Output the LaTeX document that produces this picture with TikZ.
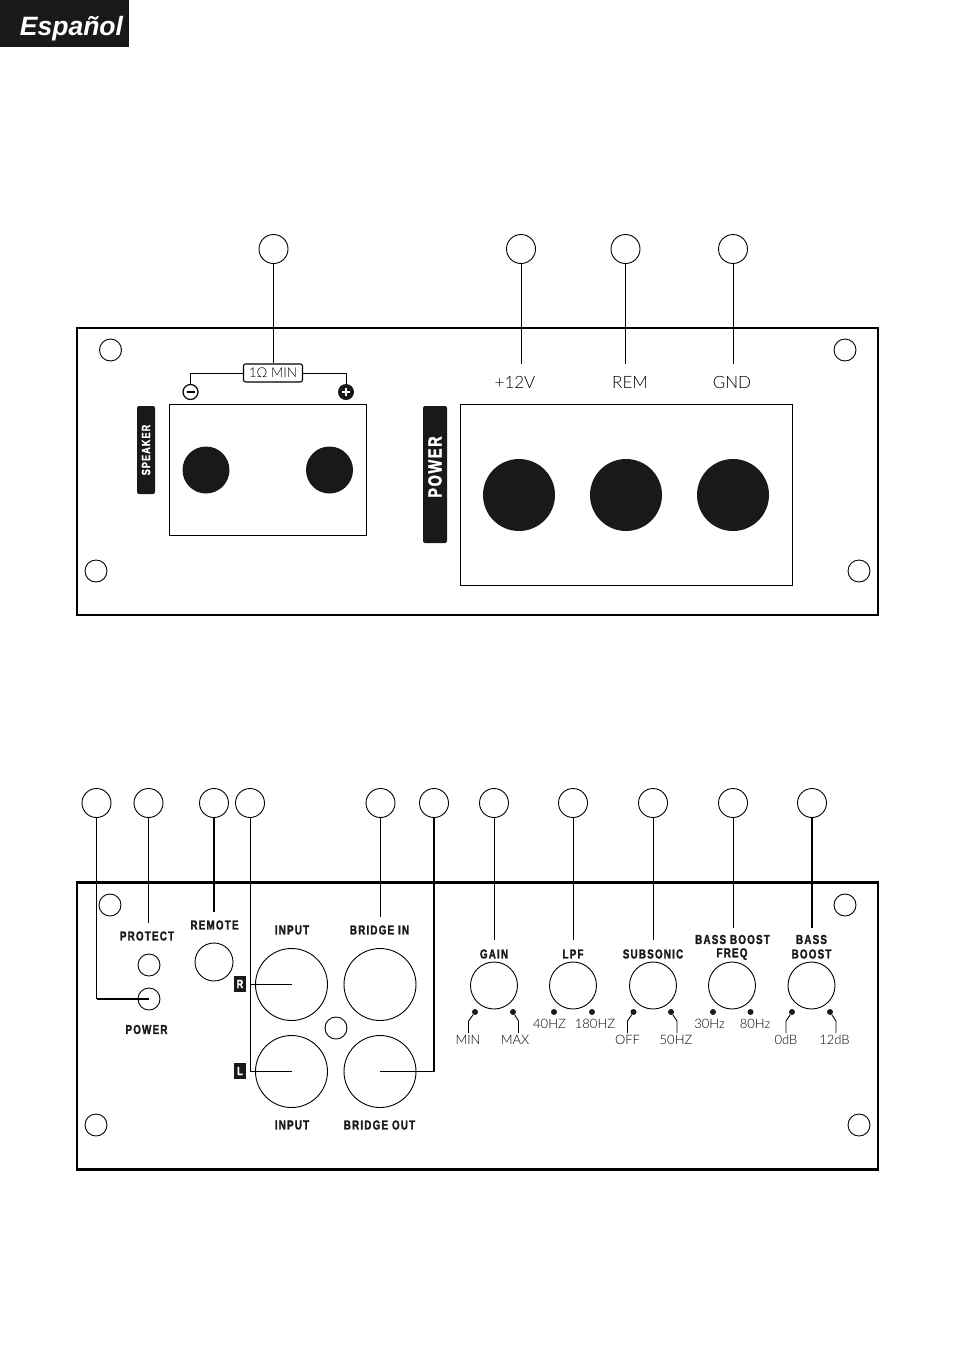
\documentclass[tikz,border=0pt]{standalone}
\usepackage{fontspec}
\setmainfont{Liberation Sans}
\newfontfamily\capfont[LetterSpace=9,FakeStretch=0.76,FakeBold=1.6]{Liberation Sans}
\newfontfamily\thinfont{Lato Light}
\tikzset{
	ring/.style={circle,draw,line width=0.9pt,inner sep=0pt},
	callout/.style={ring,minimum size=29pt},
	screw/.style={ring,minimum size=22pt},
	jack/.style={ring,minimum size=72pt},
	knob/.style={ring,minimum size=47pt},
	post/.style={circle,fill=black!90,inner sep=0pt},
	dot/.style={circle,fill=black!90,inner sep=0pt,minimum size=6pt},
	panel/.style={draw,line width=2.4pt,inner sep=0pt,minimum width=801pt,minimum height=287pt},
	bay/.style={draw,line width=0.9pt,inner sep=0pt},
	tab/.style={fill=black!90,rounded corners=2pt,inner sep=0pt},
	lead/.style={line width=0.9pt},
	heavy/.style={line width=1.8pt},
	caplabel/.style={inner sep=0pt,text=black!90,font=\capfont\bfseries\fontsize{13}{13}\selectfont},
	thinlabel/.style={inner sep=0pt,font=\thinfont\fontsize{13}{13}\selectfont}
}
\begin{document}
\begin{tikzpicture}[x=1pt,y=-1pt]
	\useasboundingbox (0,0) rectangle (954,1355);
	% banner
	\node [fill=black!90,minimum width=129pt,minimum height=47pt,inner sep=0pt,anchor=north west] (banner) at (0,0) {};
	\node [text=white,inner sep=0pt,font=\bfseries\itshape\fontsize{26.5}{26.5}\selectfont] (bannertext) at (71.5,28.5) {Español};

	% upper panel
	\node [panel] (upperpanel) at (477.5,471.5) {};
	\node [screw] (us1) at (110.5,350) {};
	\node [screw] (us2) at (845,350) {};
	\node [screw] (us3) at (96,571) {};
	\node [screw] (us4) at (859,571) {};
	\node [bay,minimum width=197pt,minimum height=131pt] (spkbay) at (267.5,469.5) {};
	\node [bay,minimum width=332pt,minimum height=181pt] (pwrbay) at (626,494.5) {};
	\node [post,minimum size=47pt] (spkminus) at (206,470) {};
	\node [post,minimum size=47pt] (spkplus) at (329.5,470) {};
	\node [post,minimum size=72pt] (pwr12) at (519,495) {};
	\node [post,minimum size=72pt] (pwrrem) at (626,495) {};
	\node [post,minimum size=72pt] (pwrgnd) at (733,495) {};
	\node [tab,minimum width=18pt,minimum height=88pt] (spktab) at (146,450) {};
	\node [tab,minimum width=24pt,minimum height=137pt] (pwrtab) at (435,474.5) {};
	\node [caplabel,text=white,rotate=90,font=\capfont\bfseries\fontsize{12}{12}\selectfont] (spktext) at (146,450) {SPEAKER};
	\node [caplabel,text=white,rotate=90,font=\capfont\bfseries\fontsize{19}{19}\selectfont] (pwrtext) at (435,467) {POWER};
	\node [draw,line width=1.1pt,rounded corners=2pt,minimum width=59pt,minimum height=18pt,inner sep=0pt,font=\thinfont\fontsize{13.5}{13.5}\selectfont] (ohmbox) at (273,373) {1Ω MIN};
	\node [circle,draw,line width=1.2pt,inner sep=0pt,minimum size=15pt] (minussign) at (190.5,392) {};
	\node [post,minimum size=16pt] (plussign) at (346,392) {};
	\draw [line width=1.6pt] (186.5,392) -- (194.5,392);
	\draw [line width=1.6pt,white] (342,392) -- (350,392);
	\draw [line width=1.6pt,white] (346,388) -- (346,396);
	\draw [lead] (ohmbox.west) -| (minussign.north);
	\draw [lead] (ohmbox.east) -| (plussign.north);
	\node [thinlabel,font=\thinfont\fontsize{17}{17}\selectfont] (lab12) at (515,382) {+12V};
	\node [thinlabel,font=\thinfont\fontsize{17}{17}\selectfont] (labrem) at (630,382) {REM};
	\node [thinlabel,font=\thinfont\fontsize{17}{17}\selectfont] (labgnd) at (732,382) {GND};
	\node [callout] (callspk) at (273.5,249) {};
	\node [callout] (call12) at (521,249) {};
	\node [callout] (callrem) at (625.5,249) {};
	\node [callout] (callgnd) at (733,249) {};
	\coordinate (tip12) at (521,364);
	\coordinate (tiprem) at (625.5,364);
	\coordinate (tipgnd) at (733,364);
	\draw [lead] (callspk.south) -- (callspk.south |- ohmbox.north);
	\draw [lead] (call12) -- (tip12);
	\draw [lead] (callrem) -- (tiprem);
	\draw [lead] (callgnd) -- (tipgnd);

	% lower panel
	\node [panel] (lowerpanel) at (477.5,1026) {};
	\node [screw] (ls1) at (110,905) {};
	\node [screw] (ls2) at (845,905) {};
	\node [screw] (ls3) at (96,1125) {};
	\node [screw] (ls4) at (859,1125) {};
	\node [screw] (ledprotect) at (149,965) {};
	\node [screw] (ledpower) at (149,999) {};
	\node [ring,minimum size=38pt] (remotejack) at (214,962) {};
	\node [jack] (inputr) at (291.5,984.5) {};
	\node [jack] (bridgein) at (380,984.5) {};
	\node [jack] (inputl) at (291.5,1071.5) {};
	\node [jack] (bridgeout) at (380,1071.5) {};
	\node [screw] (midhole) at (336,1028) {};
	\node [knob] (knobgain) at (494,985.5) {};
	\node [knob] (knoblpf) at (573,985.5) {};
	\node [knob] (knobsub) at (653,985.5) {};
	\node [knob] (knobfreq) at (732,985.5) {};
	\node [knob] (knobboost) at (811.5,985.5) {};
	\node [caplabel] (labprotect) at (147,936) {PROTECT};
	\node [caplabel] (labremote) at (214.5,925) {REMOTE};
	\node [caplabel] (labpower) at (146.5,1029.5) {POWER};
	\node [caplabel] (labinputr) at (292,930) {INPUT};
	\node [caplabel] (labbridgein) at (379.5,930) {BRIDGE IN};
	\node [caplabel] (labinputl) at (292,1125) {INPUT};
	\node [caplabel] (labbridgeout) at (379.5,1125) {BRIDGE OUT};
	\node [caplabel] (labgain) at (494,954) {GAIN};
	\node [caplabel] (lablpf) at (573,954) {LPF};
	\node [caplabel] (labsub) at (653,954) {SUBSONIC};
	\node [caplabel] (labbassboost) at (732.5,939.5) {BASS BOOST};
	\node [caplabel] (labfreq) at (732,954) {FREQ};
	\node [caplabel] (labbass) at (811.5,939.5) {BASS};
	\node [caplabel] (labboost) at (811.5,954) {BOOST};
	\node [fill=black!90,text=white,minimum width=12pt,minimum height=16pt,inner sep=0pt,font=\capfont\bfseries\fontsize{12}{12}\selectfont] (tagr) at (240,984) {R};
	\node [fill=black!90,text=white,minimum width=12pt,minimum height=16pt,inner sep=0pt,font=\capfont\bfseries\fontsize{12}{12}\selectfont] (tagl) at (240,1071) {L};

	% knob marks
	\node [dot] (gainlo) at (475,1012) {};
	\node [dot] (gainhi) at (513,1012) {};
	\node [dot] (lpflo) at (554,1012) {};
	\node [dot] (lpfhi) at (592,1012) {};
	\node [dot] (sublo) at (633.5,1012) {};
	\node [dot] (subhi) at (671,1012) {};
	\node [dot] (freqlo) at (713,1012) {};
	\node [dot] (freqhi) at (750.5,1012) {};
	\node [dot] (boostlo) at (792,1012) {};
	\node [dot] (boosthi) at (830,1012) {};
	\node [thinlabel] (labmin) at (468,1040) {MIN};
	\node [thinlabel] (labmax) at (515,1040) {MAX};
	\node [thinlabel] (lab40) at (549.5,1023.5) {40HZ};
	\node [thinlabel] (lab180) at (595,1023.5) {180HZ};
	\node [thinlabel] (laboff) at (627.5,1040) {OFF};
	\node [thinlabel] (lab50) at (676,1040) {50HZ};
	\node [thinlabel] (lab30) at (709.5,1023.5) {30Hz};
	\node [thinlabel] (lab80) at (755,1023.5) {80Hz};
	\node [thinlabel] (lab0) at (786,1040) {0dB};
	\node [thinlabel] (lab12db) at (834.5,1040) {12dB};
	\draw [lead] (gainlo) -- (468.5,1021) -- (468.5,1033);
	\draw [lead] (gainhi) -- (518.5,1021) -- (518.5,1033);
	\draw [lead] (sublo) -- (627.5,1021) -- (627.5,1033);
	\draw [lead] (subhi) -- (677,1021) -- (677,1033);
	\draw [lead] (boostlo) -- (786,1021) -- (786,1033);
	\draw [lead] (boosthi) -- (836,1021) -- (836,1033);

	% callouts of the lower panel
	\node [callout] (callpower) at (96.5,803) {};
	\node [callout] (callprotect) at (148.5,803) {};
	\node [callout] (callremote) at (214,803) {};
	\node [callout] (callinput) at (250,803) {};
	\node [callout] (callbridgein) at (380.5,803) {};
	\node [callout] (callbridgeout) at (434,803) {};
	\node [callout] (callgain) at (494,803) {};
	\node [callout] (calllpf) at (573,803) {};
	\node [callout] (callsub) at (653,803) {};
	\node [callout] (callfreq) at (733,803) {};
	\node [callout] (callboost) at (812,803) {};
	\coordinate (tipprotect) at (148.5,923);
	\coordinate (tipremote) at (214,912);
	\coordinate (tipbridgein) at (380.5,917);
	\coordinate (tipgain) at (494,940);
	\coordinate (tiplpf) at (573,940);
	\coordinate (tipsub) at (653,940);
	\coordinate (tipfreq) at (733,928);
	\coordinate (tipboost) at (812,928);
	\draw [lead] (callpower.south) -- (callpower.south |- ledpower);
	\draw [heavy] (callpower.south |- ledpower) -- (ledpower.center);
	\draw [lead] (callprotect) -- (tipprotect);
	\draw [heavy] (callremote) -- (tipremote);
	\draw [lead] (callinput.south) |- (inputl.center);
	\draw [lead] (callinput.south |- inputr) -- (inputr.center);
	\draw [lead] (callbridgein) -- (tipbridgein);
	\draw [heavy] (callbridgeout.south) -- (callbridgeout.south |- bridgeout);
	\draw [lead] (callbridgeout.south |- bridgeout) -- (bridgeout.center);
	\draw [lead] (callgain) -- (tipgain);
	\draw [lead] (calllpf) -- (tiplpf);
	\draw [lead] (callsub) -- (tipsub);
	\draw [lead] (callfreq) -- (tipfreq);
	\draw [heavy] (callboost) -- (tipboost);
\end{tikzpicture}
\end{document}
